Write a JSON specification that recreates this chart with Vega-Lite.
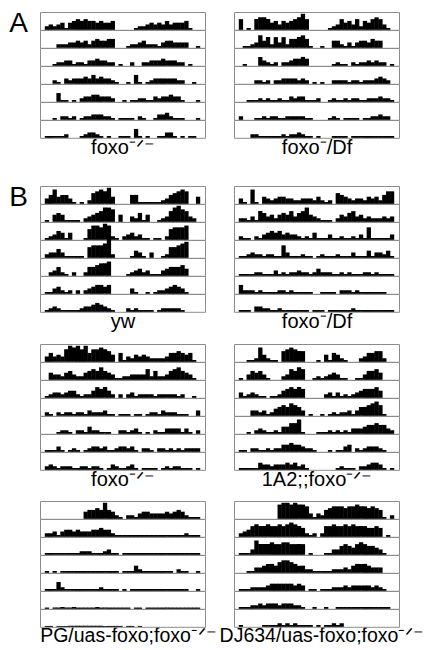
{
"$schema":"https://vega.github.io/schema/vega-lite/v6.json",
"background":"white",
"padding":{"left":9,"top":9,"right":0,"bottom":0},
"config":{"view":{"stroke":"#8c8c8c","strokeWidth":1},"font":"Liberation Sans","axis":{"titleFont":"Liberation Sans"},"title":{"font":"Liberation Sans","fontWeight":"normal","color":"black"}},
"datasets":{
"a1":[{"r":1,"x":0,"y":2},{"r":1,"x":1,"y":3},{"r":1,"x":2,"y":2},{"r":1,"x":3,"y":3},{"r":1,"x":4,"y":4},{"r":1,"x":5,"y":1},{"r":1,"x":6,"y":4},{"r":1,"x":7,"y":5},{"r":1,"x":8,"y":6},{"r":1,"x":9,"y":5},{"r":1,"x":10,"y":6},{"r":1,"x":11,"y":5},{"r":1,"x":12,"y":5},{"r":1,"x":13,"y":4},{"r":1,"x":14,"y":5},{"r":1,"x":15,"y":4},{"r":1,"x":16,"y":4},{"r":1,"x":17,"y":5},{"r":1,"x":23,"y":1},{"r":1,"x":24,"y":2},{"r":1,"x":25,"y":2},{"r":1,"x":26,"y":3},{"r":1,"x":27,"y":4},{"r":1,"x":28,"y":3},{"r":1,"x":29,"y":4},{"r":1,"x":30,"y":3},{"r":1,"x":31,"y":5},{"r":1,"x":32,"y":3},{"r":1,"x":33,"y":4},{"r":1,"x":34,"y":4},{"r":1,"x":35,"y":4},{"r":1,"x":36,"y":5},{"r":1,"x":37,"y":1},
{"r":2,"x":3,"y":2},{"r":2,"x":4,"y":2},{"r":2,"x":5,"y":2},{"r":2,"x":6,"y":3},{"r":2,"x":7,"y":3},{"r":2,"x":8,"y":4},{"r":2,"x":9,"y":3},{"r":2,"x":10,"y":4},{"r":2,"x":11,"y":2},{"r":2,"x":12,"y":4},{"r":2,"x":13,"y":5},{"r":2,"x":14,"y":4},{"r":2,"x":15,"y":4},{"r":2,"x":16,"y":5},{"r":2,"x":17,"y":5},{"r":2,"x":21,"y":1},{"r":2,"x":22,"y":2},{"r":2,"x":23,"y":2},{"r":2,"x":24,"y":3},{"r":2,"x":25,"y":4},{"r":2,"x":26,"y":2},{"r":2,"x":27,"y":2},{"r":2,"x":28,"y":2},{"r":2,"x":29,"y":1},{"r":2,"x":30,"y":3},{"r":2,"x":31,"y":4},{"r":2,"x":32,"y":4},{"r":2,"x":33,"y":3},{"r":2,"x":34,"y":3},{"r":2,"x":35,"y":3},{"r":2,"x":36,"y":3},{"r":2,"x":39,"y":1},
{"r":3,"x":2,"y":1},{"r":3,"x":3,"y":2},{"r":3,"x":4,"y":2},{"r":3,"x":5,"y":3},{"r":3,"x":6,"y":3},{"r":3,"x":7,"y":1},{"r":3,"x":8,"y":2},{"r":3,"x":9,"y":2},{"r":3,"x":10,"y":1},{"r":3,"x":11,"y":3},{"r":3,"x":12,"y":3},{"r":3,"x":13,"y":4},{"r":3,"x":14,"y":3},{"r":3,"x":15,"y":3},{"r":3,"x":16,"y":2},{"r":3,"x":17,"y":2},{"r":3,"x":19,"y":1},{"r":3,"x":22,"y":2},{"r":3,"x":25,"y":2},{"r":3,"x":26,"y":2},{"r":3,"x":27,"y":3},{"r":3,"x":28,"y":3},{"r":3,"x":29,"y":3},{"r":3,"x":30,"y":4},{"r":3,"x":31,"y":3},{"r":3,"x":32,"y":3},{"r":3,"x":33,"y":3},{"r":3,"x":34,"y":2},{"r":3,"x":35,"y":2},{"r":3,"x":37,"y":1},
{"r":4,"x":2,"y":2},{"r":4,"x":3,"y":1},{"r":4,"x":5,"y":3},{"r":4,"x":6,"y":2},{"r":4,"x":7,"y":3},{"r":4,"x":8,"y":3},{"r":4,"x":9,"y":3},{"r":4,"x":10,"y":4},{"r":4,"x":11,"y":3},{"r":4,"x":12,"y":5},{"r":4,"x":13,"y":3},{"r":4,"x":14,"y":4},{"r":4,"x":15,"y":3},{"r":4,"x":16,"y":3},{"r":4,"x":17,"y":2},{"r":4,"x":18,"y":1},{"r":4,"x":21,"y":1},{"r":4,"x":23,"y":5},{"r":4,"x":24,"y":1},{"r":4,"x":26,"y":1},{"r":4,"x":27,"y":2},{"r":4,"x":28,"y":3},{"r":4,"x":29,"y":3},{"r":4,"x":30,"y":3},{"r":4,"x":31,"y":3},{"r":4,"x":32,"y":3},{"r":4,"x":33,"y":3},{"r":4,"x":34,"y":2},{"r":4,"x":35,"y":2},{"r":4,"x":38,"y":1},
{"r":5,"x":3,"y":5},{"r":5,"x":4,"y":1},{"r":5,"x":5,"y":1},{"r":5,"x":7,"y":1},{"r":5,"x":9,"y":2},{"r":5,"x":10,"y":3},{"r":5,"x":11,"y":3},{"r":5,"x":12,"y":4},{"r":5,"x":13,"y":4},{"r":5,"x":14,"y":3},{"r":5,"x":15,"y":3},{"r":5,"x":16,"y":3},{"r":5,"x":17,"y":2},{"r":5,"x":20,"y":1},{"r":5,"x":22,"y":1},{"r":5,"x":23,"y":1},{"r":5,"x":24,"y":2},{"r":5,"x":25,"y":2},{"r":5,"x":26,"y":1},{"r":5,"x":27,"y":1},{"r":5,"x":28,"y":3},{"r":5,"x":29,"y":2},{"r":5,"x":30,"y":3},{"r":5,"x":31,"y":3},{"r":5,"x":32,"y":4},{"r":5,"x":33,"y":3},{"r":5,"x":34,"y":3},{"r":5,"x":35,"y":1},{"r":5,"x":39,"y":1},
{"r":6,"x":2,"y":1},{"r":6,"x":4,"y":2},{"r":6,"x":5,"y":2},{"r":6,"x":6,"y":1},{"r":6,"x":7,"y":2},{"r":6,"x":9,"y":1},{"r":6,"x":10,"y":2},{"r":6,"x":11,"y":2},{"r":6,"x":12,"y":3},{"r":6,"x":13,"y":3},{"r":6,"x":14,"y":3},{"r":6,"x":15,"y":2},{"r":6,"x":16,"y":2},{"r":6,"x":17,"y":1},{"r":6,"x":19,"y":1},{"r":6,"x":20,"y":1},{"r":6,"x":21,"y":1},{"r":6,"x":22,"y":1},{"r":6,"x":24,"y":2},{"r":6,"x":25,"y":1},{"r":6,"x":28,"y":1},{"r":6,"x":29,"y":3},{"r":6,"x":30,"y":3},{"r":6,"x":31,"y":4},{"r":6,"x":32,"y":2},{"r":6,"x":33,"y":1},{"r":6,"x":34,"y":1},{"r":6,"x":35,"y":1},{"r":6,"x":39,"y":1},
{"r":7,"x":0,"y":1},{"r":7,"x":1,"y":1},{"r":7,"x":2,"y":1},{"r":7,"x":3,"y":1},{"r":7,"x":4,"y":1},{"r":7,"x":5,"y":2},{"r":7,"x":9,"y":1},{"r":7,"x":10,"y":2},{"r":7,"x":11,"y":3},{"r":7,"x":12,"y":3},{"r":7,"x":13,"y":2},{"r":7,"x":14,"y":1},{"r":7,"x":16,"y":1},{"r":7,"x":19,"y":1},{"r":7,"x":20,"y":1},{"r":7,"x":21,"y":1},{"r":7,"x":23,"y":5},{"r":7,"x":24,"y":1},{"r":7,"x":26,"y":1},{"r":7,"x":29,"y":1},{"r":7,"x":30,"y":1},{"r":7,"x":31,"y":3},{"r":7,"x":32,"y":3},{"r":7,"x":33,"y":1},{"r":7,"x":35,"y":1},{"r":7,"x":37,"y":1},{"r":7,"x":38,"y":1}],
"a2":[{"r":1,"x":0,"y":6},{"r":1,"x":2,"y":1},{"r":1,"x":4,"y":6},{"r":1,"x":5,"y":7},{"r":1,"x":6,"y":7},{"r":1,"x":7,"y":6},{"r":1,"x":8,"y":4},{"r":1,"x":9,"y":5},{"r":1,"x":10,"y":3},{"r":1,"x":11,"y":5},{"r":1,"x":12,"y":4},{"r":1,"x":13,"y":5},{"r":1,"x":14,"y":6},{"r":1,"x":15,"y":7},{"r":1,"x":16,"y":9},{"r":1,"x":17,"y":6},{"r":1,"x":23,"y":1},{"r":1,"x":24,"y":2},{"r":1,"x":25,"y":3},{"r":1,"x":26,"y":6},{"r":1,"x":27,"y":4},{"r":1,"x":28,"y":5},{"r":1,"x":29,"y":3},{"r":1,"x":30,"y":6},{"r":1,"x":31,"y":2},{"r":1,"x":32,"y":5},{"r":1,"x":33,"y":4},{"r":1,"x":34,"y":6},{"r":1,"x":35,"y":7},{"r":1,"x":36,"y":6},{"r":1,"x":37,"y":3},{"r":1,"x":38,"y":1},
{"r":2,"x":1,"y":1},{"r":2,"x":2,"y":1},{"r":2,"x":3,"y":2},{"r":2,"x":4,"y":3},{"r":2,"x":5,"y":7},{"r":2,"x":6,"y":4},{"r":2,"x":7,"y":6},{"r":2,"x":8,"y":2},{"r":2,"x":9,"y":6},{"r":2,"x":10,"y":3},{"r":2,"x":11,"y":6},{"r":2,"x":12,"y":2},{"r":2,"x":13,"y":5},{"r":2,"x":14,"y":5},{"r":2,"x":15,"y":6},{"r":2,"x":16,"y":7},{"r":2,"x":17,"y":5},{"r":2,"x":18,"y":1},{"r":2,"x":21,"y":1},{"r":2,"x":24,"y":4},{"r":2,"x":25,"y":4},{"r":2,"x":26,"y":2},{"r":2,"x":27,"y":1},{"r":2,"x":28,"y":3},{"r":2,"x":29,"y":1},{"r":2,"x":30,"y":3},{"r":2,"x":31,"y":4},{"r":2,"x":32,"y":4},{"r":2,"x":33,"y":3},{"r":2,"x":34,"y":5},{"r":2,"x":35,"y":4},{"r":2,"x":36,"y":4},
{"r":3,"x":1,"y":1},{"r":3,"x":5,"y":5},{"r":3,"x":6,"y":3},{"r":3,"x":7,"y":2},{"r":3,"x":8,"y":1},{"r":3,"x":9,"y":2},{"r":3,"x":11,"y":2},{"r":3,"x":12,"y":2},{"r":3,"x":13,"y":3},{"r":3,"x":14,"y":4},{"r":3,"x":15,"y":4},{"r":3,"x":16,"y":5},{"r":3,"x":17,"y":4},{"r":3,"x":24,"y":1},{"r":3,"x":25,"y":2},{"r":3,"x":26,"y":1},{"r":3,"x":27,"y":1},{"r":3,"x":29,"y":2},{"r":3,"x":30,"y":1},{"r":3,"x":31,"y":2},{"r":3,"x":32,"y":2},{"r":3,"x":33,"y":3},{"r":3,"x":34,"y":2},{"r":3,"x":35,"y":3},{"r":3,"x":36,"y":2},{"r":3,"x":37,"y":2},{"r":3,"x":39,"y":1},
{"r":4,"x":4,"y":2},{"r":4,"x":5,"y":2},{"r":4,"x":6,"y":1},{"r":4,"x":7,"y":2},{"r":4,"x":9,"y":2},{"r":4,"x":10,"y":2},{"r":4,"x":11,"y":3},{"r":4,"x":12,"y":3},{"r":4,"x":13,"y":3},{"r":4,"x":14,"y":3},{"r":4,"x":15,"y":2},{"r":4,"x":16,"y":3},{"r":4,"x":17,"y":2},{"r":4,"x":19,"y":1},{"r":4,"x":21,"y":1},{"r":4,"x":24,"y":2},{"r":4,"x":25,"y":2},{"r":4,"x":26,"y":2},{"r":4,"x":27,"y":2},{"r":4,"x":28,"y":1},{"r":4,"x":29,"y":2},{"r":4,"x":30,"y":2},{"r":4,"x":31,"y":1},{"r":4,"x":32,"y":2},{"r":4,"x":33,"y":2},{"r":4,"x":34,"y":2},{"r":4,"x":35,"y":3},{"r":4,"x":36,"y":4},{"r":4,"x":37,"y":3},{"r":4,"x":38,"y":2},
{"r":5,"x":2,"y":1},{"r":5,"x":3,"y":1},{"r":5,"x":4,"y":1},{"r":5,"x":5,"y":2},{"r":5,"x":6,"y":1},{"r":5,"x":7,"y":2},{"r":5,"x":8,"y":1},{"r":5,"x":9,"y":1},{"r":5,"x":10,"y":2},{"r":5,"x":11,"y":1},{"r":5,"x":12,"y":1},{"r":5,"x":13,"y":3},{"r":5,"x":14,"y":2},{"r":5,"x":15,"y":3},{"r":5,"x":16,"y":3},{"r":5,"x":17,"y":1},{"r":5,"x":18,"y":1},{"r":5,"x":19,"y":1},{"r":5,"x":20,"y":2},{"r":5,"x":23,"y":1},{"r":5,"x":24,"y":2},{"r":5,"x":25,"y":1},{"r":5,"x":26,"y":1},{"r":5,"x":27,"y":2},{"r":5,"x":28,"y":1},{"r":5,"x":29,"y":2},{"r":5,"x":30,"y":2},{"r":5,"x":31,"y":1},{"r":5,"x":32,"y":1},{"r":5,"x":33,"y":2},{"r":5,"x":34,"y":2},{"r":5,"x":35,"y":2},{"r":5,"x":36,"y":3},{"r":5,"x":37,"y":2},{"r":5,"x":38,"y":2},{"r":5,"x":39,"y":1},
{"r":6,"x":0,"y":2},{"r":6,"x":4,"y":1},{"r":6,"x":5,"y":1},{"r":6,"x":6,"y":2},{"r":6,"x":7,"y":1},{"r":6,"x":8,"y":2},{"r":6,"x":9,"y":2},{"r":6,"x":10,"y":1},{"r":6,"x":11,"y":1},{"r":6,"x":12,"y":2},{"r":6,"x":13,"y":2},{"r":6,"x":14,"y":2},{"r":6,"x":15,"y":2},{"r":6,"x":16,"y":2},{"r":6,"x":17,"y":1},{"r":6,"x":18,"y":1},{"r":6,"x":23,"y":1},{"r":6,"x":24,"y":2},{"r":6,"x":25,"y":1},{"r":6,"x":27,"y":1},{"r":6,"x":28,"y":1},{"r":6,"x":29,"y":1},{"r":6,"x":30,"y":1},{"r":6,"x":32,"y":1},{"r":6,"x":33,"y":1},{"r":6,"x":34,"y":2},{"r":6,"x":35,"y":2},{"r":6,"x":36,"y":3},{"r":6,"x":37,"y":2},{"r":6,"x":38,"y":2},
{"r":7,"x":3,"y":2},{"r":7,"x":4,"y":2},{"r":7,"x":5,"y":1},{"r":7,"x":6,"y":1},{"r":7,"x":7,"y":1},{"r":7,"x":8,"y":1},{"r":7,"x":9,"y":1},{"r":7,"x":10,"y":1},{"r":7,"x":11,"y":2},{"r":7,"x":12,"y":1},{"r":7,"x":13,"y":2},{"r":7,"x":14,"y":2},{"r":7,"x":15,"y":3},{"r":7,"x":16,"y":2},{"r":7,"x":17,"y":1},{"r":7,"x":18,"y":1},{"r":7,"x":20,"y":1},{"r":7,"x":24,"y":1},{"r":7,"x":25,"y":1},{"r":7,"x":26,"y":1},{"r":7,"x":27,"y":1},{"r":7,"x":29,"y":1},{"r":7,"x":30,"y":1},{"r":7,"x":31,"y":1},{"r":7,"x":32,"y":1},{"r":7,"x":33,"y":1},{"r":7,"x":34,"y":1},{"r":7,"x":35,"y":1},{"r":7,"x":36,"y":1},{"r":7,"x":37,"y":1},{"r":7,"x":38,"y":1},{"r":7,"x":39,"y":1}],
"b1":[{"r":1,"x":0,"y":3},{"r":1,"x":1,"y":5},{"r":1,"x":2,"y":8},{"r":1,"x":3,"y":4},{"r":1,"x":4,"y":5},{"r":1,"x":5,"y":5},{"r":1,"x":6,"y":3},{"r":1,"x":7,"y":1},{"r":1,"x":9,"y":1},{"r":1,"x":11,"y":2},{"r":1,"x":12,"y":6},{"r":1,"x":13,"y":7},{"r":1,"x":14,"y":8},{"r":1,"x":15,"y":7},{"r":1,"x":16,"y":9},{"r":1,"x":17,"y":4},{"r":1,"x":22,"y":5},{"r":1,"x":23,"y":5},{"r":1,"x":24,"y":1},{"r":1,"x":25,"y":1},{"r":1,"x":26,"y":1},{"r":1,"x":27,"y":1},{"r":1,"x":28,"y":1},{"r":1,"x":29,"y":1},{"r":1,"x":30,"y":2},{"r":1,"x":31,"y":3},{"r":1,"x":32,"y":5},{"r":1,"x":33,"y":6},{"r":1,"x":34,"y":7},{"r":1,"x":35,"y":8},{"r":1,"x":36,"y":7},{"r":1,"x":39,"y":4},
{"r":2,"x":0,"y":1},{"r":2,"x":2,"y":4},{"r":2,"x":3,"y":5},{"r":2,"x":4,"y":4},{"r":2,"x":5,"y":1},{"r":2,"x":6,"y":1},{"r":2,"x":7,"y":1},{"r":2,"x":8,"y":1},{"r":2,"x":10,"y":2},{"r":2,"x":11,"y":3},{"r":2,"x":12,"y":4},{"r":2,"x":13,"y":5},{"r":2,"x":14,"y":6},{"r":2,"x":15,"y":8},{"r":2,"x":16,"y":8},{"r":2,"x":17,"y":7},{"r":2,"x":19,"y":4},{"r":2,"x":22,"y":3},{"r":2,"x":23,"y":2},{"r":2,"x":24,"y":5},{"r":2,"x":25,"y":1},{"r":2,"x":26,"y":4},{"r":2,"x":29,"y":1},{"r":2,"x":30,"y":2},{"r":2,"x":31,"y":3},{"r":2,"x":32,"y":6},{"r":2,"x":33,"y":8},{"r":2,"x":34,"y":9},{"r":2,"x":35,"y":7},{"r":2,"x":36,"y":6},{"r":2,"x":37,"y":3},{"r":2,"x":38,"y":2},
{"r":3,"x":0,"y":1},{"r":3,"x":1,"y":2},{"r":3,"x":2,"y":3},{"r":3,"x":3,"y":5},{"r":3,"x":4,"y":4},{"r":3,"x":5,"y":1},{"r":3,"x":6,"y":4},{"r":3,"x":10,"y":1},{"r":3,"x":11,"y":6},{"r":3,"x":12,"y":8},{"r":3,"x":13,"y":8},{"r":3,"x":14,"y":7},{"r":3,"x":15,"y":9},{"r":3,"x":16,"y":8},{"r":3,"x":17,"y":2},{"r":3,"x":18,"y":1},{"r":3,"x":20,"y":2},{"r":3,"x":21,"y":3},{"r":3,"x":22,"y":4},{"r":3,"x":23,"y":2},{"r":3,"x":24,"y":3},{"r":3,"x":25,"y":1},{"r":3,"x":26,"y":1},{"r":3,"x":28,"y":1},{"r":3,"x":29,"y":1},{"r":3,"x":31,"y":2},{"r":3,"x":32,"y":6},{"r":3,"x":33,"y":7},{"r":3,"x":34,"y":7},{"r":3,"x":35,"y":7},{"r":3,"x":36,"y":8},
{"r":4,"x":0,"y":2},{"r":4,"x":1,"y":3},{"r":4,"x":2,"y":3},{"r":4,"x":3,"y":5},{"r":4,"x":4,"y":3},{"r":4,"x":5,"y":1},{"r":4,"x":6,"y":1},{"r":4,"x":7,"y":1},{"r":4,"x":8,"y":1},{"r":4,"x":9,"y":1},{"r":4,"x":11,"y":6},{"r":4,"x":12,"y":7},{"r":4,"x":13,"y":7},{"r":4,"x":14,"y":7},{"r":4,"x":15,"y":8},{"r":4,"x":16,"y":11},{"r":4,"x":17,"y":2},{"r":4,"x":22,"y":1},{"r":4,"x":23,"y":4},{"r":4,"x":24,"y":3},{"r":4,"x":25,"y":1},{"r":4,"x":27,"y":3},{"r":4,"x":30,"y":1},{"r":4,"x":31,"y":2},{"r":4,"x":32,"y":6},{"r":4,"x":33,"y":6},{"r":4,"x":34,"y":7},{"r":4,"x":35,"y":8},{"r":4,"x":36,"y":9},
{"r":5,"x":1,"y":2},{"r":5,"x":2,"y":3},{"r":5,"x":3,"y":5},{"r":5,"x":4,"y":2},{"r":5,"x":5,"y":1},{"r":5,"x":7,"y":2},{"r":5,"x":10,"y":2},{"r":5,"x":11,"y":5},{"r":5,"x":12,"y":5},{"r":5,"x":13,"y":6},{"r":5,"x":14,"y":7},{"r":5,"x":15,"y":7},{"r":5,"x":16,"y":8},{"r":5,"x":21,"y":1},{"r":5,"x":22,"y":2},{"r":5,"x":23,"y":3},{"r":5,"x":24,"y":4},{"r":5,"x":25,"y":2},{"r":5,"x":26,"y":3},{"r":5,"x":27,"y":1},{"r":5,"x":28,"y":1},{"r":5,"x":29,"y":1},{"r":5,"x":30,"y":3},{"r":5,"x":31,"y":4},{"r":5,"x":32,"y":5},{"r":5,"x":33,"y":5},{"r":5,"x":34,"y":5},{"r":5,"x":35,"y":6},{"r":5,"x":36,"y":4},
{"r":6,"x":0,"y":1},{"r":6,"x":1,"y":1},{"r":6,"x":2,"y":3},{"r":6,"x":3,"y":4},{"r":6,"x":4,"y":2},{"r":6,"x":5,"y":1},{"r":6,"x":6,"y":2},{"r":6,"x":8,"y":2},{"r":6,"x":10,"y":2},{"r":6,"x":11,"y":3},{"r":6,"x":12,"y":4},{"r":6,"x":13,"y":5},{"r":6,"x":14,"y":5},{"r":6,"x":15,"y":4},{"r":6,"x":16,"y":5},{"r":6,"x":22,"y":3},{"r":6,"x":23,"y":1},{"r":6,"x":26,"y":1},{"r":6,"x":28,"y":1},{"r":6,"x":29,"y":2},{"r":6,"x":30,"y":2},{"r":6,"x":31,"y":3},{"r":6,"x":32,"y":4},{"r":6,"x":33,"y":5},{"r":6,"x":34,"y":4},{"r":6,"x":35,"y":3},{"r":6,"x":36,"y":1},
{"r":7,"x":0,"y":1},{"r":7,"x":1,"y":2},{"r":7,"x":2,"y":3},{"r":7,"x":3,"y":2},{"r":7,"x":4,"y":1},{"r":7,"x":5,"y":1},{"r":7,"x":6,"y":1},{"r":7,"x":7,"y":1},{"r":7,"x":8,"y":1},{"r":7,"x":9,"y":2},{"r":7,"x":10,"y":3},{"r":7,"x":11,"y":3},{"r":7,"x":12,"y":4},{"r":7,"x":13,"y":5},{"r":7,"x":14,"y":4},{"r":7,"x":15,"y":3},{"r":7,"x":16,"y":2},{"r":7,"x":17,"y":1},{"r":7,"x":21,"y":2},{"r":7,"x":22,"y":1},{"r":7,"x":23,"y":2},{"r":7,"x":24,"y":1},{"r":7,"x":25,"y":1},{"r":7,"x":26,"y":1},{"r":7,"x":27,"y":1},{"r":7,"x":29,"y":1},{"r":7,"x":30,"y":2},{"r":7,"x":31,"y":2},{"r":7,"x":32,"y":2},{"r":7,"x":33,"y":2},{"r":7,"x":34,"y":2},{"r":7,"x":35,"y":1}],
"b2":[{"r":1,"x":0,"y":3},{"r":1,"x":1,"y":1},{"r":1,"x":3,"y":8},{"r":1,"x":4,"y":1},{"r":1,"x":6,"y":4},{"r":1,"x":7,"y":3},{"r":1,"x":8,"y":2},{"r":1,"x":9,"y":3},{"r":1,"x":10,"y":4},{"r":1,"x":11,"y":4},{"r":1,"x":12,"y":3},{"r":1,"x":13,"y":3},{"r":1,"x":14,"y":2},{"r":1,"x":15,"y":2},{"r":1,"x":16,"y":3},{"r":1,"x":17,"y":3},{"r":1,"x":18,"y":3},{"r":1,"x":19,"y":2},{"r":1,"x":20,"y":4},{"r":1,"x":21,"y":2},{"r":1,"x":22,"y":1},{"r":1,"x":23,"y":2},{"r":1,"x":25,"y":6},{"r":1,"x":26,"y":5},{"r":1,"x":27,"y":4},{"r":1,"x":28,"y":3},{"r":1,"x":29,"y":2},{"r":1,"x":30,"y":3},{"r":1,"x":31,"y":3},{"r":1,"x":32,"y":2},{"r":1,"x":33,"y":4},{"r":1,"x":34,"y":3},{"r":1,"x":35,"y":4},{"r":1,"x":36,"y":2},{"r":1,"x":37,"y":5},{"r":1,"x":38,"y":7},{"r":1,"x":39,"y":7},
{"r":2,"x":0,"y":2},{"r":2,"x":1,"y":2},{"r":2,"x":2,"y":1},{"r":2,"x":3,"y":3},{"r":2,"x":4,"y":1},{"r":2,"x":5,"y":6},{"r":2,"x":6,"y":5},{"r":2,"x":7,"y":3},{"r":2,"x":8,"y":4},{"r":2,"x":9,"y":2},{"r":2,"x":10,"y":4},{"r":2,"x":11,"y":5},{"r":2,"x":12,"y":4},{"r":2,"x":13,"y":6},{"r":2,"x":14,"y":3},{"r":2,"x":15,"y":5},{"r":2,"x":16,"y":6},{"r":2,"x":17,"y":8},{"r":2,"x":18,"y":4},{"r":2,"x":19,"y":3},{"r":2,"x":20,"y":2},{"r":2,"x":21,"y":1},{"r":2,"x":22,"y":1},{"r":2,"x":23,"y":1},{"r":2,"x":25,"y":2},{"r":2,"x":26,"y":4},{"r":2,"x":27,"y":3},{"r":2,"x":28,"y":5},{"r":2,"x":29,"y":6},{"r":2,"x":30,"y":3},{"r":2,"x":31,"y":4},{"r":2,"x":32,"y":2},{"r":2,"x":33,"y":3},{"r":2,"x":34,"y":2},{"r":2,"x":35,"y":2},{"r":2,"x":36,"y":2},{"r":2,"x":37,"y":3},{"r":2,"x":38,"y":2},{"r":2,"x":39,"y":3},
{"r":3,"x":0,"y":2},{"r":3,"x":1,"y":1},{"r":3,"x":2,"y":1},{"r":3,"x":4,"y":2},{"r":3,"x":5,"y":1},{"r":3,"x":6,"y":3},{"r":3,"x":7,"y":4},{"r":3,"x":8,"y":5},{"r":3,"x":9,"y":4},{"r":3,"x":10,"y":5},{"r":3,"x":11,"y":3},{"r":3,"x":12,"y":4},{"r":3,"x":13,"y":3},{"r":3,"x":14,"y":3},{"r":3,"x":15,"y":2},{"r":3,"x":16,"y":1},{"r":3,"x":17,"y":2},{"r":3,"x":18,"y":1},{"r":3,"x":19,"y":4},{"r":3,"x":20,"y":1},{"r":3,"x":21,"y":1},{"r":3,"x":22,"y":1},{"r":3,"x":23,"y":3},{"r":3,"x":24,"y":1},{"r":3,"x":25,"y":1},{"r":3,"x":26,"y":2},{"r":3,"x":27,"y":1},{"r":3,"x":28,"y":1},{"r":3,"x":29,"y":2},{"r":3,"x":30,"y":1},{"r":3,"x":31,"y":3},{"r":3,"x":32,"y":1},{"r":3,"x":33,"y":7},{"r":3,"x":34,"y":1},{"r":3,"x":35,"y":1},{"r":3,"x":36,"y":1},{"r":3,"x":37,"y":1},{"r":3,"x":38,"y":1},{"r":3,"x":39,"y":3},
{"r":4,"x":0,"y":1},{"r":4,"x":1,"y":1},{"r":4,"x":2,"y":2},{"r":4,"x":3,"y":3},{"r":4,"x":4,"y":2},{"r":4,"x":5,"y":2},{"r":4,"x":6,"y":1},{"r":4,"x":7,"y":2},{"r":4,"x":8,"y":2},{"r":4,"x":9,"y":1},{"r":4,"x":10,"y":1},{"r":4,"x":11,"y":7},{"r":4,"x":12,"y":3},{"r":4,"x":13,"y":1},{"r":4,"x":14,"y":1},{"r":4,"x":15,"y":1},{"r":4,"x":16,"y":2},{"r":4,"x":17,"y":1},{"r":4,"x":18,"y":1},{"r":4,"x":20,"y":1},{"r":4,"x":21,"y":2},{"r":4,"x":22,"y":1},{"r":4,"x":23,"y":1},{"r":4,"x":24,"y":1},{"r":4,"x":25,"y":2},{"r":4,"x":26,"y":1},{"r":4,"x":27,"y":1},{"r":4,"x":28,"y":1},{"r":4,"x":29,"y":3},{"r":4,"x":30,"y":1},{"r":4,"x":31,"y":1},{"r":4,"x":32,"y":1},{"r":4,"x":33,"y":4},{"r":4,"x":34,"y":1},{"r":4,"x":35,"y":3},{"r":4,"x":36,"y":3},{"r":4,"x":37,"y":2},{"r":4,"x":38,"y":4},{"r":4,"x":39,"y":1},
{"r":5,"x":0,"y":1},{"r":5,"x":1,"y":1},{"r":5,"x":2,"y":1},{"r":5,"x":3,"y":1},{"r":5,"x":4,"y":2},{"r":5,"x":5,"y":2},{"r":5,"x":6,"y":1},{"r":5,"x":7,"y":1},{"r":5,"x":8,"y":1},{"r":5,"x":9,"y":3},{"r":5,"x":10,"y":1},{"r":5,"x":11,"y":2},{"r":5,"x":12,"y":1},{"r":5,"x":13,"y":2},{"r":5,"x":14,"y":2},{"r":5,"x":15,"y":3},{"r":5,"x":16,"y":2},{"r":5,"x":17,"y":2},{"r":5,"x":18,"y":1},{"r":5,"x":19,"y":2},{"r":5,"x":20,"y":4},{"r":5,"x":21,"y":2},{"r":5,"x":22,"y":2},{"r":5,"x":23,"y":2},{"r":5,"x":24,"y":1},{"r":5,"x":25,"y":1},{"r":5,"x":26,"y":2},{"r":5,"x":27,"y":1},{"r":5,"x":28,"y":2},{"r":5,"x":29,"y":1},{"r":5,"x":30,"y":1},{"r":5,"x":31,"y":1},{"r":5,"x":32,"y":2},{"r":5,"x":33,"y":2},{"r":5,"x":34,"y":1},{"r":5,"x":35,"y":2},{"r":5,"x":36,"y":1},{"r":5,"x":37,"y":1},{"r":5,"x":38,"y":1},{"r":5,"x":39,"y":1},
{"r":6,"x":0,"y":5},{"r":6,"x":1,"y":2},{"r":6,"x":2,"y":2},{"r":6,"x":3,"y":2},{"r":6,"x":4,"y":1},{"r":6,"x":5,"y":2},{"r":6,"x":6,"y":1},{"r":6,"x":7,"y":1},{"r":6,"x":8,"y":1},{"r":6,"x":9,"y":1},{"r":6,"x":10,"y":2},{"r":6,"x":11,"y":2},{"r":6,"x":12,"y":1},{"r":6,"x":13,"y":2},{"r":6,"x":14,"y":1},{"r":6,"x":15,"y":1},{"r":6,"x":16,"y":1},{"r":6,"x":17,"y":1},{"r":6,"x":18,"y":1},{"r":6,"x":21,"y":1},{"r":6,"x":22,"y":1},{"r":6,"x":23,"y":1},{"r":6,"x":24,"y":1},{"r":6,"x":26,"y":2},{"r":6,"x":27,"y":2},{"r":6,"x":28,"y":2},{"r":6,"x":29,"y":1},{"r":6,"x":30,"y":2},{"r":6,"x":31,"y":1},{"r":6,"x":32,"y":1},{"r":6,"x":33,"y":1},{"r":6,"x":34,"y":1},{"r":6,"x":35,"y":1},{"r":6,"x":36,"y":1},{"r":6,"x":37,"y":1},
{"r":7,"x":0,"y":1},{"r":7,"x":1,"y":1},{"r":7,"x":2,"y":1},{"r":7,"x":4,"y":3},{"r":7,"x":5,"y":3},{"r":7,"x":6,"y":2},{"r":7,"x":7,"y":2},{"r":7,"x":8,"y":1},{"r":7,"x":9,"y":1},{"r":7,"x":10,"y":2},{"r":7,"x":11,"y":1},{"r":7,"x":12,"y":1},{"r":7,"x":13,"y":1},{"r":7,"x":14,"y":1},{"r":7,"x":15,"y":1},{"r":7,"x":16,"y":1},{"r":7,"x":17,"y":1},{"r":7,"x":19,"y":1},{"r":7,"x":20,"y":1},{"r":7,"x":21,"y":1},{"r":7,"x":23,"y":1},{"r":7,"x":24,"y":1},{"r":7,"x":25,"y":1},{"r":7,"x":26,"y":1},{"r":7,"x":27,"y":1},{"r":7,"x":28,"y":1},{"r":7,"x":29,"y":2},{"r":7,"x":30,"y":1},{"r":7,"x":31,"y":1},{"r":7,"x":32,"y":1},{"r":7,"x":33,"y":1},{"r":7,"x":34,"y":1},{"r":7,"x":35,"y":1},{"r":7,"x":36,"y":1},{"r":7,"x":37,"y":1},{"r":7,"x":38,"y":1},{"r":7,"x":39,"y":1}],
"b3":[{"r":1,"x":0,"y":3},{"r":1,"x":1,"y":5},{"r":1,"x":2,"y":3},{"r":1,"x":3,"y":4},{"r":1,"x":4,"y":3},{"r":1,"x":5,"y":7},{"r":1,"x":6,"y":9},{"r":1,"x":7,"y":8},{"r":1,"x":8,"y":9},{"r":1,"x":9,"y":7},{"r":1,"x":10,"y":9},{"r":1,"x":11,"y":5},{"r":1,"x":12,"y":7},{"r":1,"x":13,"y":7},{"r":1,"x":14,"y":8},{"r":1,"x":15,"y":7},{"r":1,"x":16,"y":6},{"r":1,"x":17,"y":4},{"r":1,"x":19,"y":5},{"r":1,"x":20,"y":1},{"r":1,"x":21,"y":3},{"r":1,"x":22,"y":2},{"r":1,"x":23,"y":4},{"r":1,"x":24,"y":3},{"r":1,"x":25,"y":4},{"r":1,"x":26,"y":3},{"r":1,"x":27,"y":2},{"r":1,"x":28,"y":2},{"r":1,"x":29,"y":2},{"r":1,"x":30,"y":2},{"r":1,"x":31,"y":3},{"r":1,"x":32,"y":5},{"r":1,"x":33,"y":5},{"r":1,"x":34,"y":6},{"r":1,"x":35,"y":5},{"r":1,"x":36,"y":4},{"r":1,"x":37,"y":5},{"r":1,"x":38,"y":1},
{"r":2,"x":1,"y":4},{"r":2,"x":2,"y":3},{"r":2,"x":3,"y":3},{"r":2,"x":4,"y":2},{"r":2,"x":5,"y":4},{"r":2,"x":6,"y":5},{"r":2,"x":7,"y":3},{"r":2,"x":8,"y":2},{"r":2,"x":9,"y":2},{"r":2,"x":10,"y":4},{"r":2,"x":11,"y":5},{"r":2,"x":12,"y":6},{"r":2,"x":13,"y":5},{"r":2,"x":14,"y":7},{"r":2,"x":15,"y":5},{"r":2,"x":16,"y":4},{"r":2,"x":17,"y":3},{"r":2,"x":18,"y":1},{"r":2,"x":19,"y":1},{"r":2,"x":20,"y":2},{"r":2,"x":21,"y":2},{"r":2,"x":22,"y":3},{"r":2,"x":23,"y":3},{"r":2,"x":24,"y":3},{"r":2,"x":25,"y":3},{"r":2,"x":26,"y":6},{"r":2,"x":27,"y":2},{"r":2,"x":28,"y":5},{"r":2,"x":29,"y":2},{"r":2,"x":30,"y":2},{"r":2,"x":31,"y":3},{"r":2,"x":32,"y":5},{"r":2,"x":33,"y":6},{"r":2,"x":34,"y":7},{"r":2,"x":35,"y":5},{"r":2,"x":36,"y":4},{"r":2,"x":37,"y":3},{"r":2,"x":38,"y":1},
{"r":3,"x":0,"y":1},{"r":3,"x":1,"y":2},{"r":3,"x":2,"y":3},{"r":3,"x":3,"y":3},{"r":3,"x":4,"y":2},{"r":3,"x":5,"y":3},{"r":3,"x":6,"y":4},{"r":3,"x":7,"y":4},{"r":3,"x":8,"y":2},{"r":3,"x":9,"y":1},{"r":3,"x":10,"y":2},{"r":3,"x":11,"y":2},{"r":3,"x":12,"y":4},{"r":3,"x":13,"y":6},{"r":3,"x":14,"y":5},{"r":3,"x":15,"y":6},{"r":3,"x":16,"y":4},{"r":3,"x":17,"y":2},{"r":3,"x":19,"y":2},{"r":3,"x":21,"y":2},{"r":3,"x":22,"y":3},{"r":3,"x":23,"y":1},{"r":3,"x":24,"y":2},{"r":3,"x":25,"y":2},{"r":3,"x":26,"y":2},{"r":3,"x":27,"y":2},{"r":3,"x":28,"y":1},{"r":3,"x":29,"y":2},{"r":3,"x":30,"y":2},{"r":3,"x":31,"y":2},{"r":3,"x":32,"y":2},{"r":3,"x":33,"y":2},{"r":3,"x":34,"y":1},{"r":3,"x":35,"y":2},{"r":3,"x":38,"y":1},
{"r":4,"x":0,"y":2},{"r":4,"x":1,"y":1},{"r":4,"x":3,"y":2},{"r":4,"x":4,"y":1},{"r":4,"x":5,"y":2},{"r":4,"x":6,"y":2},{"r":4,"x":7,"y":1},{"r":4,"x":8,"y":2},{"r":4,"x":9,"y":2},{"r":4,"x":10,"y":1},{"r":4,"x":11,"y":3},{"r":4,"x":12,"y":2},{"r":4,"x":13,"y":2},{"r":4,"x":14,"y":2},{"r":4,"x":15,"y":3},{"r":4,"x":16,"y":1},{"r":4,"x":17,"y":1},{"r":4,"x":19,"y":1},{"r":4,"x":20,"y":1},{"r":4,"x":21,"y":1},{"r":4,"x":23,"y":1},{"r":4,"x":24,"y":1},{"r":4,"x":26,"y":1},{"r":4,"x":27,"y":2},{"r":4,"x":28,"y":2},{"r":4,"x":29,"y":1},{"r":4,"x":30,"y":3},{"r":4,"x":31,"y":2},{"r":4,"x":32,"y":2},{"r":4,"x":33,"y":2},{"r":4,"x":34,"y":1},{"r":4,"x":35,"y":1},{"r":4,"x":36,"y":1},{"r":4,"x":39,"y":3},
{"r":5,"x":3,"y":1},{"r":5,"x":4,"y":2},{"r":5,"x":5,"y":2},{"r":5,"x":6,"y":1},{"r":5,"x":8,"y":2},{"r":5,"x":9,"y":2},{"r":5,"x":10,"y":1},{"r":5,"x":11,"y":4},{"r":5,"x":12,"y":2},{"r":5,"x":13,"y":2},{"r":5,"x":14,"y":1},{"r":5,"x":15,"y":1},{"r":5,"x":16,"y":1},{"r":5,"x":19,"y":2},{"r":5,"x":20,"y":2},{"r":5,"x":21,"y":1},{"r":5,"x":22,"y":2},{"r":5,"x":23,"y":3},{"r":5,"x":24,"y":1},{"r":5,"x":26,"y":1},{"r":5,"x":28,"y":2},{"r":5,"x":29,"y":1},{"r":5,"x":30,"y":1},{"r":5,"x":31,"y":3},{"r":5,"x":32,"y":3},{"r":5,"x":33,"y":3},{"r":5,"x":34,"y":3},{"r":5,"x":35,"y":1},{"r":5,"x":36,"y":3},{"r":5,"x":37,"y":1},{"r":5,"x":39,"y":2},
{"r":6,"x":0,"y":1},{"r":6,"x":1,"y":1},{"r":6,"x":2,"y":1},{"r":6,"x":3,"y":3},{"r":6,"x":4,"y":1},{"r":6,"x":6,"y":1},{"r":6,"x":7,"y":2},{"r":6,"x":8,"y":1},{"r":6,"x":10,"y":1},{"r":6,"x":11,"y":2},{"r":6,"x":12,"y":3},{"r":6,"x":13,"y":3},{"r":6,"x":14,"y":2},{"r":6,"x":15,"y":3},{"r":6,"x":16,"y":1},{"r":6,"x":17,"y":1},{"r":6,"x":18,"y":2},{"r":6,"x":19,"y":3},{"r":6,"x":20,"y":3},{"r":6,"x":21,"y":2},{"r":6,"x":22,"y":3},{"r":6,"x":23,"y":1},{"r":6,"x":25,"y":2},{"r":6,"x":26,"y":2},{"r":6,"x":27,"y":1},{"r":6,"x":29,"y":2},{"r":6,"x":30,"y":2},{"r":6,"x":31,"y":1},{"r":6,"x":32,"y":2},{"r":6,"x":33,"y":1},{"r":6,"x":34,"y":2},{"r":6,"x":35,"y":1},{"r":6,"x":36,"y":2},{"r":6,"x":37,"y":2},{"r":6,"x":38,"y":2},{"r":6,"x":39,"y":2},
{"r":7,"x":0,"y":2},{"r":7,"x":1,"y":3},{"r":7,"x":2,"y":2},{"r":7,"x":3,"y":1},{"r":7,"x":4,"y":2},{"r":7,"x":5,"y":2},{"r":7,"x":6,"y":2},{"r":7,"x":7,"y":1},{"r":7,"x":8,"y":1},{"r":7,"x":9,"y":2},{"r":7,"x":10,"y":2},{"r":7,"x":11,"y":1},{"r":7,"x":12,"y":2},{"r":7,"x":13,"y":2},{"r":7,"x":14,"y":1},{"r":7,"x":16,"y":1},{"r":7,"x":17,"y":3},{"r":7,"x":18,"y":2},{"r":7,"x":19,"y":1},{"r":7,"x":20,"y":1},{"r":7,"x":21,"y":2},{"r":7,"x":22,"y":3},{"r":7,"x":23,"y":1},{"r":7,"x":25,"y":1},{"r":7,"x":26,"y":1},{"r":7,"x":27,"y":1},{"r":7,"x":28,"y":1},{"r":7,"x":30,"y":1},{"r":7,"x":31,"y":2},{"r":7,"x":32,"y":1},{"r":7,"x":33,"y":2},{"r":7,"x":34,"y":2},{"r":7,"x":35,"y":1},{"r":7,"x":36,"y":1},{"r":7,"x":37,"y":1},{"r":7,"x":39,"y":1}],
"b4":[{"r":1,"x":2,"y":1},{"r":1,"x":3,"y":1},{"r":1,"x":4,"y":2},{"r":1,"x":5,"y":8},{"r":1,"x":6,"y":4},{"r":1,"x":7,"y":2},{"r":1,"x":8,"y":1},{"r":1,"x":9,"y":1},{"r":1,"x":11,"y":6},{"r":1,"x":12,"y":7},{"r":1,"x":13,"y":8},{"r":1,"x":14,"y":7},{"r":1,"x":15,"y":6},{"r":1,"x":16,"y":6},{"r":1,"x":20,"y":1},{"r":1,"x":22,"y":4},{"r":1,"x":23,"y":1},{"r":1,"x":24,"y":5},{"r":1,"x":25,"y":4},{"r":1,"x":26,"y":2},{"r":1,"x":27,"y":1},{"r":1,"x":31,"y":2},{"r":1,"x":32,"y":3},{"r":1,"x":33,"y":5},{"r":1,"x":34,"y":5},{"r":1,"x":35,"y":6},{"r":1,"x":36,"y":6},{"r":1,"x":37,"y":2},
{"r":2,"x":0,"y":1},{"r":2,"x":2,"y":3},{"r":2,"x":3,"y":5},{"r":2,"x":4,"y":4},{"r":2,"x":5,"y":5},{"r":2,"x":6,"y":3},{"r":2,"x":7,"y":1},{"r":2,"x":11,"y":2},{"r":2,"x":12,"y":3},{"r":2,"x":13,"y":6},{"r":2,"x":14,"y":5},{"r":2,"x":15,"y":7},{"r":2,"x":16,"y":6},{"r":2,"x":19,"y":1},{"r":2,"x":20,"y":2},{"r":2,"x":21,"y":1},{"r":2,"x":22,"y":2},{"r":2,"x":23,"y":3},{"r":2,"x":24,"y":4},{"r":2,"x":25,"y":3},{"r":2,"x":26,"y":1},{"r":2,"x":27,"y":1},{"r":2,"x":30,"y":1},{"r":2,"x":31,"y":1},{"r":2,"x":32,"y":3},{"r":2,"x":33,"y":5},{"r":2,"x":34,"y":5},{"r":2,"x":35,"y":6},{"r":2,"x":36,"y":4},
{"r":3,"x":0,"y":3},{"r":3,"x":1,"y":1},{"r":3,"x":2,"y":2},{"r":3,"x":3,"y":3},{"r":3,"x":4,"y":2},{"r":3,"x":5,"y":1},{"r":3,"x":6,"y":1},{"r":3,"x":8,"y":1},{"r":3,"x":9,"y":1},{"r":3,"x":10,"y":2},{"r":3,"x":11,"y":4},{"r":3,"x":12,"y":5},{"r":3,"x":13,"y":6},{"r":3,"x":14,"y":5},{"r":3,"x":15,"y":6},{"r":3,"x":16,"y":5},{"r":3,"x":22,"y":2},{"r":3,"x":23,"y":3},{"r":3,"x":24,"y":1},{"r":3,"x":25,"y":3},{"r":3,"x":26,"y":1},{"r":3,"x":27,"y":2},{"r":3,"x":28,"y":1},{"r":3,"x":29,"y":2},{"r":3,"x":30,"y":3},{"r":3,"x":31,"y":4},{"r":3,"x":32,"y":5},{"r":3,"x":33,"y":5},{"r":3,"x":34,"y":5},{"r":3,"x":35,"y":6},{"r":3,"x":36,"y":4},
{"r":4,"x":3,"y":3},{"r":4,"x":4,"y":3},{"r":4,"x":5,"y":2},{"r":4,"x":6,"y":3},{"r":4,"x":7,"y":1},{"r":4,"x":8,"y":2},{"r":4,"x":9,"y":4},{"r":4,"x":10,"y":5},{"r":4,"x":11,"y":6},{"r":4,"x":12,"y":5},{"r":4,"x":13,"y":7},{"r":4,"x":14,"y":6},{"r":4,"x":15,"y":5},{"r":4,"x":16,"y":3},{"r":4,"x":18,"y":1},{"r":4,"x":21,"y":1},{"r":4,"x":23,"y":1},{"r":4,"x":24,"y":2},{"r":4,"x":25,"y":1},{"r":4,"x":26,"y":2},{"r":4,"x":27,"y":2},{"r":4,"x":28,"y":3},{"r":4,"x":29,"y":1},{"r":4,"x":30,"y":3},{"r":4,"x":31,"y":5},{"r":4,"x":32,"y":5},{"r":4,"x":33,"y":6},{"r":4,"x":34,"y":7},{"r":4,"x":35,"y":8},{"r":4,"x":36,"y":6},{"r":4,"x":37,"y":1},
{"r":5,"x":2,"y":1},{"r":5,"x":4,"y":2},{"r":5,"x":5,"y":3},{"r":5,"x":6,"y":2},{"r":5,"x":7,"y":1},{"r":5,"x":8,"y":1},{"r":5,"x":9,"y":2},{"r":5,"x":10,"y":1},{"r":5,"x":11,"y":4},{"r":5,"x":12,"y":4},{"r":5,"x":13,"y":6},{"r":5,"x":14,"y":6},{"r":5,"x":15,"y":8},{"r":5,"x":16,"y":1},{"r":5,"x":20,"y":1},{"r":5,"x":21,"y":1},{"r":5,"x":22,"y":1},{"r":5,"x":23,"y":2},{"r":5,"x":24,"y":1},{"r":5,"x":25,"y":2},{"r":5,"x":26,"y":1},{"r":5,"x":27,"y":2},{"r":5,"x":28,"y":1},{"r":5,"x":29,"y":3},{"r":5,"x":30,"y":3},{"r":5,"x":31,"y":3},{"r":5,"x":32,"y":4},{"r":5,"x":33,"y":5},{"r":5,"x":34,"y":5},{"r":5,"x":35,"y":6},{"r":5,"x":36,"y":5},{"r":5,"x":37,"y":5},{"r":5,"x":38,"y":3},{"r":5,"x":39,"y":2},
{"r":6,"x":0,"y":1},{"r":6,"x":1,"y":1},{"r":6,"x":3,"y":2},{"r":6,"x":4,"y":2},{"r":6,"x":5,"y":1},{"r":6,"x":6,"y":1},{"r":6,"x":7,"y":2},{"r":6,"x":8,"y":1},{"r":6,"x":9,"y":2},{"r":6,"x":10,"y":2},{"r":6,"x":11,"y":4},{"r":6,"x":12,"y":4},{"r":6,"x":13,"y":5},{"r":6,"x":14,"y":4},{"r":6,"x":15,"y":4},{"r":6,"x":16,"y":3},{"r":6,"x":17,"y":2},{"r":6,"x":18,"y":2},{"r":6,"x":19,"y":1},{"r":6,"x":23,"y":1},{"r":6,"x":25,"y":1},{"r":6,"x":26,"y":1},{"r":6,"x":27,"y":3},{"r":6,"x":28,"y":4},{"r":6,"x":30,"y":2},{"r":6,"x":31,"y":1},{"r":6,"x":32,"y":2},{"r":6,"x":33,"y":3},{"r":6,"x":34,"y":3},{"r":6,"x":35,"y":3},{"r":6,"x":36,"y":2},{"r":6,"x":37,"y":1},
{"r":7,"x":0,"y":1},{"r":7,"x":1,"y":1},{"r":7,"x":2,"y":1},{"r":7,"x":3,"y":1},{"r":7,"x":4,"y":1},{"r":7,"x":5,"y":4},{"r":7,"x":6,"y":3},{"r":7,"x":7,"y":3},{"r":7,"x":8,"y":2},{"r":7,"x":9,"y":3},{"r":7,"x":10,"y":3},{"r":7,"x":11,"y":3},{"r":7,"x":12,"y":4},{"r":7,"x":13,"y":3},{"r":7,"x":14,"y":4},{"r":7,"x":15,"y":2},{"r":7,"x":16,"y":3},{"r":7,"x":17,"y":1},{"r":7,"x":25,"y":1},{"r":7,"x":26,"y":2},{"r":7,"x":27,"y":1},{"r":7,"x":28,"y":1},{"r":7,"x":29,"y":1},{"r":7,"x":31,"y":2},{"r":7,"x":32,"y":2},{"r":7,"x":33,"y":3},{"r":7,"x":34,"y":4},{"r":7,"x":35,"y":4},{"r":7,"x":36,"y":3},{"r":7,"x":37,"y":1},{"r":7,"x":39,"y":1}],
"b5":[{"r":1,"x":10,"y":4},{"r":1,"x":11,"y":5},{"r":1,"x":12,"y":5},{"r":1,"x":13,"y":6},{"r":1,"x":14,"y":5},{"r":1,"x":15,"y":9},{"r":1,"x":16,"y":5},{"r":1,"x":17,"y":4},{"r":1,"x":18,"y":2},{"r":1,"x":19,"y":1},{"r":1,"x":21,"y":2},{"r":1,"x":22,"y":2},{"r":1,"x":23,"y":1},{"r":1,"x":24,"y":3},{"r":1,"x":25,"y":4},{"r":1,"x":26,"y":4},{"r":1,"x":27,"y":3},{"r":1,"x":28,"y":3},{"r":1,"x":29,"y":3},{"r":1,"x":30,"y":3},{"r":1,"x":31,"y":4},{"r":1,"x":32,"y":3},{"r":1,"x":33,"y":4},{"r":1,"x":34,"y":5},{"r":1,"x":35,"y":4},{"r":1,"x":36,"y":2},{"r":1,"x":37,"y":1},{"r":1,"x":38,"y":1},{"r":1,"x":39,"y":1},
{"r":2,"x":0,"y":2},{"r":2,"x":1,"y":2},{"r":2,"x":2,"y":3},{"r":2,"x":3,"y":1},{"r":2,"x":4,"y":3},{"r":2,"x":5,"y":4},{"r":2,"x":6,"y":4},{"r":2,"x":7,"y":3},{"r":2,"x":8,"y":4},{"r":2,"x":9,"y":3},{"r":2,"x":10,"y":3},{"r":2,"x":11,"y":3},{"r":2,"x":12,"y":4},{"r":2,"x":13,"y":4},{"r":2,"x":14,"y":5},{"r":2,"x":15,"y":4},{"r":2,"x":16,"y":4},{"r":2,"x":17,"y":2},{"r":2,"x":18,"y":1},{"r":2,"x":19,"y":1},{"r":2,"x":20,"y":1},{"r":2,"x":21,"y":1},{"r":2,"x":22,"y":1},{"r":2,"x":23,"y":1},{"r":2,"x":24,"y":1},{"r":2,"x":25,"y":1},{"r":2,"x":26,"y":1},{"r":2,"x":27,"y":1},{"r":2,"x":28,"y":1},{"r":2,"x":29,"y":1},{"r":2,"x":30,"y":1},{"r":2,"x":31,"y":1},{"r":2,"x":32,"y":1},{"r":2,"x":33,"y":1},{"r":2,"x":34,"y":1},{"r":2,"x":35,"y":1},{"r":2,"x":36,"y":2},{"r":2,"x":37,"y":1},{"r":2,"x":38,"y":1},{"r":2,"x":39,"y":1},
{"r":3,"x":0,"y":1},{"r":3,"x":1,"y":1},{"r":3,"x":2,"y":1},{"r":3,"x":3,"y":1},{"r":3,"x":4,"y":1},{"r":3,"x":5,"y":1},{"r":3,"x":6,"y":1},{"r":3,"x":7,"y":1},{"r":3,"x":8,"y":1},{"r":3,"x":9,"y":2},{"r":3,"x":10,"y":2},{"r":3,"x":11,"y":2},{"r":3,"x":12,"y":1},{"r":3,"x":13,"y":1},{"r":3,"x":14,"y":1},{"r":3,"x":15,"y":2},{"r":3,"x":16,"y":3},{"r":3,"x":17,"y":1},{"r":3,"x":18,"y":1},{"r":3,"x":20,"y":1},{"r":3,"x":21,"y":1},{"r":3,"x":22,"y":1},{"r":3,"x":23,"y":1},{"r":3,"x":24,"y":1},{"r":3,"x":25,"y":1},{"r":3,"x":26,"y":1},{"r":3,"x":27,"y":1},{"r":3,"x":28,"y":1},{"r":3,"x":29,"y":1},{"r":3,"x":30,"y":1},{"r":3,"x":31,"y":1},{"r":3,"x":32,"y":1},{"r":3,"x":33,"y":1},{"r":3,"x":34,"y":1},{"r":3,"x":35,"y":1},{"r":3,"x":36,"y":1},{"r":3,"x":37,"y":1},{"r":3,"x":38,"y":1},{"r":3,"x":39,"y":1},
{"r":4,"x":0,"y":1},{"r":4,"x":2,"y":1},{"r":4,"x":4,"y":1},{"r":4,"x":5,"y":1},{"r":4,"x":6,"y":1},{"r":4,"x":7,"y":1},{"r":4,"x":8,"y":1},{"r":4,"x":9,"y":1},{"r":4,"x":10,"y":1},{"r":4,"x":11,"y":1},{"r":4,"x":12,"y":1},{"r":4,"x":13,"y":1},{"r":4,"x":14,"y":1},{"r":4,"x":15,"y":1},{"r":4,"x":16,"y":1},{"r":4,"x":17,"y":1},{"r":4,"x":18,"y":1},{"r":4,"x":20,"y":1},{"r":4,"x":21,"y":1},{"r":4,"x":22,"y":1},{"r":4,"x":23,"y":4},{"r":4,"x":24,"y":2},{"r":4,"x":25,"y":1},{"r":4,"x":26,"y":1},{"r":4,"x":27,"y":1},{"r":4,"x":28,"y":1},{"r":4,"x":29,"y":1},{"r":4,"x":30,"y":1},{"r":4,"x":31,"y":1},{"r":4,"x":32,"y":1},{"r":4,"x":34,"y":2},{"r":4,"x":35,"y":1},{"r":4,"x":36,"y":1},{"r":4,"x":39,"y":1},
{"r":5,"x":0,"y":1},{"r":5,"x":1,"y":1},{"r":5,"x":2,"y":1},{"r":5,"x":3,"y":5},{"r":5,"x":4,"y":2},{"r":5,"x":5,"y":1},{"r":5,"x":6,"y":1},{"r":5,"x":7,"y":1},{"r":5,"x":8,"y":1},{"r":5,"x":9,"y":1},{"r":5,"x":10,"y":1},{"r":5,"x":11,"y":1},{"r":5,"x":12,"y":1},{"r":5,"x":13,"y":1},{"r":5,"x":14,"y":2},{"r":5,"x":15,"y":1},{"r":5,"x":16,"y":1},{"r":5,"x":17,"y":1},{"r":5,"x":18,"y":1},{"r":5,"x":20,"y":1},{"r":5,"x":22,"y":1},{"r":5,"x":23,"y":1},{"r":5,"x":24,"y":1},{"r":5,"x":25,"y":1},{"r":5,"x":26,"y":1},{"r":5,"x":27,"y":1},{"r":5,"x":28,"y":1},{"r":5,"x":29,"y":1},{"r":5,"x":30,"y":1},{"r":5,"x":31,"y":1},{"r":5,"x":32,"y":1},{"r":5,"x":33,"y":1},{"r":5,"x":34,"y":1},{"r":5,"x":35,"y":1},{"r":5,"x":36,"y":1},{"r":5,"x":39,"y":1},
{"r":6,"x":0,"y":0.7},{"r":6,"x":2,"y":0.7},{"r":6,"x":3,"y":0.7},{"r":6,"x":4,"y":1},{"r":6,"x":5,"y":0.7},{"r":6,"x":6,"y":0.7},{"r":6,"x":7,"y":1},{"r":6,"x":8,"y":0.7},{"r":6,"x":9,"y":0.7},{"r":6,"x":10,"y":0.7},{"r":6,"x":11,"y":0.7},{"r":6,"x":12,"y":0.7},{"r":6,"x":13,"y":1},{"r":6,"x":14,"y":0.7},{"r":6,"x":15,"y":0.7},{"r":6,"x":16,"y":0.7},{"r":6,"x":17,"y":0.7},{"r":6,"x":18,"y":0.7},{"r":6,"x":19,"y":0.7},{"r":6,"x":20,"y":0.7},{"r":6,"x":21,"y":0.7},{"r":6,"x":23,"y":0.7},{"r":6,"x":24,"y":0.7},{"r":6,"x":26,"y":0.7},{"r":6,"x":27,"y":0.7},{"r":6,"x":28,"y":0.7},{"r":6,"x":29,"y":0.7},{"r":6,"x":30,"y":0.7},{"r":6,"x":31,"y":0.7},{"r":6,"x":32,"y":0.7},{"r":6,"x":33,"y":0.7},{"r":6,"x":34,"y":0.7},{"r":6,"x":35,"y":0.7},{"r":6,"x":36,"y":0.7},{"r":6,"x":37,"y":0.7},{"r":6,"x":38,"y":0.7},{"r":6,"x":39,"y":0.7},
{"r":7,"x":0,"y":0.5},{"r":7,"x":1,"y":0.5},{"r":7,"x":3,"y":0.5},{"r":7,"x":4,"y":0.5},{"r":7,"x":5,"y":0.5},{"r":7,"x":6,"y":0.6},{"r":7,"x":7,"y":0.6},{"r":7,"x":8,"y":0.6},{"r":7,"x":9,"y":0.6},{"r":7,"x":10,"y":0.6},{"r":7,"x":11,"y":0.6},{"r":7,"x":12,"y":0.6},{"r":7,"x":13,"y":0.6},{"r":7,"x":14,"y":0.6},{"r":7,"x":15,"y":0.5},{"r":7,"x":16,"y":0.5},{"r":7,"x":17,"y":0.5},{"r":7,"x":18,"y":0.5},{"r":7,"x":19,"y":0.5},{"r":7,"x":21,"y":0.5},{"r":7,"x":22,"y":0.5},{"r":7,"x":24,"y":0.5}],
"b6":[{"r":1,"x":10,"y":8},{"r":1,"x":11,"y":9},{"r":1,"x":12,"y":9},{"r":1,"x":13,"y":8},{"r":1,"x":14,"y":9},{"r":1,"x":15,"y":8},{"r":1,"x":16,"y":8},{"r":1,"x":17,"y":7},{"r":1,"x":18,"y":3},{"r":1,"x":19,"y":1},{"r":1,"x":20,"y":3},{"r":1,"x":21,"y":2},{"r":1,"x":22,"y":5},{"r":1,"x":23,"y":6},{"r":1,"x":24,"y":7},{"r":1,"x":25,"y":7},{"r":1,"x":26,"y":7},{"r":1,"x":27,"y":6},{"r":1,"x":28,"y":7},{"r":1,"x":29,"y":7},{"r":1,"x":30,"y":8},{"r":1,"x":31,"y":7},{"r":1,"x":32,"y":7},{"r":1,"x":33,"y":6},{"r":1,"x":34,"y":7},{"r":1,"x":35,"y":6},{"r":1,"x":36,"y":5},{"r":1,"x":37,"y":1},{"r":1,"x":39,"y":2},
{"r":2,"x":0,"y":2},{"r":2,"x":1,"y":3},{"r":2,"x":2,"y":4},{"r":2,"x":3,"y":6},{"r":2,"x":4,"y":7},{"r":2,"x":5,"y":6},{"r":2,"x":6,"y":6},{"r":2,"x":7,"y":7},{"r":2,"x":8,"y":6},{"r":2,"x":9,"y":6},{"r":2,"x":10,"y":7},{"r":2,"x":11,"y":6},{"r":2,"x":12,"y":7},{"r":2,"x":13,"y":8},{"r":2,"x":14,"y":7},{"r":2,"x":15,"y":6},{"r":2,"x":16,"y":5},{"r":2,"x":17,"y":2},{"r":2,"x":18,"y":1},{"r":2,"x":19,"y":2},{"r":2,"x":21,"y":2},{"r":2,"x":22,"y":6},{"r":2,"x":23,"y":6},{"r":2,"x":24,"y":7},{"r":2,"x":25,"y":6},{"r":2,"x":26,"y":6},{"r":2,"x":27,"y":7},{"r":2,"x":28,"y":6},{"r":2,"x":29,"y":7},{"r":2,"x":30,"y":6},{"r":2,"x":31,"y":6},{"r":2,"x":32,"y":6},{"r":2,"x":33,"y":5},{"r":2,"x":34,"y":5},{"r":2,"x":35,"y":6},{"r":2,"x":36,"y":5},{"r":2,"x":38,"y":1},
{"r":3,"x":0,"y":1},{"r":3,"x":1,"y":1},{"r":3,"x":2,"y":1},{"r":3,"x":3,"y":3},{"r":3,"x":4,"y":8},{"r":3,"x":5,"y":6},{"r":3,"x":6,"y":6},{"r":3,"x":7,"y":6},{"r":3,"x":8,"y":7},{"r":3,"x":9,"y":6},{"r":3,"x":10,"y":6},{"r":3,"x":11,"y":7},{"r":3,"x":12,"y":7},{"r":3,"x":13,"y":6},{"r":3,"x":14,"y":6},{"r":3,"x":15,"y":6},{"r":3,"x":16,"y":6},{"r":3,"x":18,"y":1},{"r":3,"x":22,"y":1},{"r":3,"x":23,"y":1},{"r":3,"x":24,"y":3},{"r":3,"x":25,"y":3},{"r":3,"x":26,"y":5},{"r":3,"x":27,"y":6},{"r":3,"x":28,"y":5},{"r":3,"x":29,"y":4},{"r":3,"x":30,"y":6},{"r":3,"x":31,"y":7},{"r":3,"x":32,"y":6},{"r":3,"x":33,"y":5},{"r":3,"x":34,"y":5},{"r":3,"x":35,"y":4},{"r":3,"x":36,"y":3},{"r":3,"x":37,"y":1},
{"r":4,"x":2,"y":1},{"r":4,"x":3,"y":1},{"r":4,"x":4,"y":3},{"r":4,"x":5,"y":3},{"r":4,"x":6,"y":4},{"r":4,"x":7,"y":5},{"r":4,"x":8,"y":5},{"r":4,"x":9,"y":4},{"r":4,"x":10,"y":6},{"r":4,"x":11,"y":7},{"r":4,"x":12,"y":7},{"r":4,"x":13,"y":6},{"r":4,"x":14,"y":5},{"r":4,"x":15,"y":4},{"r":4,"x":16,"y":4},{"r":4,"x":17,"y":2},{"r":4,"x":18,"y":2},{"r":4,"x":19,"y":1},{"r":4,"x":20,"y":1},{"r":4,"x":21,"y":1},{"r":4,"x":22,"y":1},{"r":4,"x":23,"y":1},{"r":4,"x":24,"y":2},{"r":4,"x":25,"y":2},{"r":4,"x":26,"y":2},{"r":4,"x":27,"y":3},{"r":4,"x":28,"y":2},{"r":4,"x":29,"y":4},{"r":4,"x":30,"y":5},{"r":4,"x":31,"y":5},{"r":4,"x":32,"y":5},{"r":4,"x":33,"y":4},{"r":4,"x":34,"y":3},{"r":4,"x":35,"y":3},{"r":4,"x":36,"y":3},
{"r":5,"x":0,"y":1},{"r":5,"x":1,"y":1},{"r":5,"x":2,"y":1},{"r":5,"x":3,"y":2},{"r":5,"x":4,"y":2},{"r":5,"x":5,"y":2},{"r":5,"x":6,"y":2},{"r":5,"x":7,"y":3},{"r":5,"x":8,"y":4},{"r":5,"x":9,"y":4},{"r":5,"x":10,"y":4},{"r":5,"x":11,"y":4},{"r":5,"x":12,"y":4},{"r":5,"x":13,"y":4},{"r":5,"x":14,"y":3},{"r":5,"x":15,"y":4},{"r":5,"x":16,"y":3},{"r":5,"x":18,"y":1},{"r":5,"x":19,"y":1},{"r":5,"x":21,"y":1},{"r":5,"x":22,"y":1},{"r":5,"x":23,"y":1},{"r":5,"x":24,"y":2},{"r":5,"x":25,"y":2},{"r":5,"x":26,"y":2},{"r":5,"x":27,"y":3},{"r":5,"x":28,"y":2},{"r":5,"x":29,"y":3},{"r":5,"x":30,"y":3},{"r":5,"x":31,"y":3},{"r":5,"x":32,"y":3},{"r":5,"x":33,"y":3},{"r":5,"x":34,"y":2},{"r":5,"x":35,"y":3},{"r":5,"x":36,"y":2},{"r":5,"x":37,"y":1},
{"r":6,"x":0,"y":1},{"r":6,"x":1,"y":1},{"r":6,"x":2,"y":1},{"r":6,"x":3,"y":2},{"r":6,"x":4,"y":2},{"r":6,"x":5,"y":3},{"r":6,"x":6,"y":2},{"r":6,"x":7,"y":3},{"r":6,"x":8,"y":3},{"r":6,"x":9,"y":3},{"r":6,"x":10,"y":2},{"r":6,"x":11,"y":3},{"r":6,"x":12,"y":3},{"r":6,"x":13,"y":3},{"r":6,"x":14,"y":2},{"r":6,"x":15,"y":2},{"r":6,"x":16,"y":1},{"r":6,"x":19,"y":1},{"r":6,"x":22,"y":1},{"r":6,"x":25,"y":1},{"r":6,"x":26,"y":1},{"r":6,"x":27,"y":1},{"r":6,"x":28,"y":1},{"r":6,"x":29,"y":1},{"r":6,"x":30,"y":1},{"r":6,"x":31,"y":1},{"r":6,"x":32,"y":1},{"r":6,"x":33,"y":1},{"r":6,"x":34,"y":1},{"r":6,"x":35,"y":1},{"r":6,"x":36,"y":1},{"r":6,"x":37,"y":1},{"r":6,"x":38,"y":1},
{"r":7,"x":0,"y":1},{"r":7,"x":6,"y":1},{"r":7,"x":7,"y":1},{"r":7,"x":8,"y":1},{"r":7,"x":9,"y":1},{"r":7,"x":10,"y":2},{"r":7,"x":11,"y":1},{"r":7,"x":12,"y":2},{"r":7,"x":13,"y":1},{"r":7,"x":14,"y":2},{"r":7,"x":15,"y":1},{"r":7,"x":16,"y":1},{"r":7,"x":17,"y":1},{"r":7,"x":18,"y":1},{"r":7,"x":20,"y":1},{"r":7,"x":22,"y":1},{"r":7,"x":23,"y":1},{"r":7,"x":24,"y":2},{"r":7,"x":25,"y":1},{"r":7,"x":26,"y":2}]
},
"spacing":26,
"vconcat":[
{"hconcat":[
{"data":{"name":"a1"},"facet":{"row":{"field":"r","type":"ordinal","header":null}},"spacing":0,"bounds":"flush","spec":{"width":165,"height":17.8,"mark":{"type":"bar","color":"black","width":4.3},"encoding":{"x":{"field":"x","type":"quantitative","scale":{"domain":[-0.5,39.5]},"axis":{"title":"foxo⁻ᐟ⁻","labels":false,"ticks":false,"domain":false,"grid":false,"titleFontSize":20,"titleFontWeight":"normal","titleColor":"black","titlePadding":-1}},"y":{"field":"y","type":"quantitative","scale":{"domain":[0,10]},"axis":null}}}},
{"data":{"name":"a2"},"facet":{"row":{"field":"r","type":"ordinal","header":null}},"spacing":0,"bounds":"flush","spec":{"width":165,"height":17.8,"mark":{"type":"bar","color":"black","width":4.3},"encoding":{"x":{"field":"x","type":"quantitative","scale":{"domain":[-0.5,39.5]},"axis":{"title":"foxo⁻/Df","labels":false,"ticks":false,"domain":false,"grid":false,"titleFontSize":20,"titleFontWeight":"normal","titleColor":"black","titlePadding":-1}},"y":{"field":"y","type":"quantitative","scale":{"domain":[0,10]},"axis":null}}}}
],"spacing":27,"title":{"text":"A","orient":"left","angle":0,"anchor":"end","baseline":"top","fontSize":28,"offset":-7,"dy":-2}},
{"vconcat":[
{"hconcat":[
{"data":{"name":"b1"},"facet":{"row":{"field":"r","type":"ordinal","header":null}},"spacing":0,"bounds":"flush","spec":{"width":165,"height":17.8,"mark":{"type":"bar","color":"black","width":4.3},"encoding":{"x":{"field":"x","type":"quantitative","scale":{"domain":[-0.5,39.5]},"axis":{"title":"yw","labels":false,"ticks":false,"domain":false,"grid":false,"titleFontSize":20,"titleFontWeight":"normal","titleColor":"black","titlePadding":-1}},"y":{"field":"y","type":"quantitative","scale":{"domain":[0,10]},"axis":null}}}},
{"data":{"name":"b2"},"facet":{"row":{"field":"r","type":"ordinal","header":null}},"spacing":0,"bounds":"flush","spec":{"width":165,"height":17.8,"mark":{"type":"bar","color":"black","width":4.3},"encoding":{"x":{"field":"x","type":"quantitative","scale":{"domain":[-0.5,39.5]},"axis":{"title":"foxo⁻/Df","labels":false,"ticks":false,"domain":false,"grid":false,"titleFontSize":20,"titleFontWeight":"normal","titleColor":"black","titlePadding":-1}},"y":{"field":"y","type":"quantitative","scale":{"domain":[0,10]},"axis":null}}}}
],"spacing":27},
{"vconcat":[
{"hconcat":[
{"data":{"name":"b3"},"facet":{"row":{"field":"r","type":"ordinal","header":null}},"spacing":0,"bounds":"flush","spec":{"width":165,"height":17.8,"mark":{"type":"bar","color":"black","width":4.3},"encoding":{"x":{"field":"x","type":"quantitative","scale":{"domain":[-0.5,39.5]},"axis":{"title":"foxo⁻ᐟ⁻","labels":false,"ticks":false,"domain":false,"grid":false,"titleFontSize":20,"titleFontWeight":"normal","titleColor":"black","titlePadding":-1}},"y":{"field":"y","type":"quantitative","scale":{"domain":[0,10]},"axis":null}}}},
{"data":{"name":"b4"},"facet":{"row":{"field":"r","type":"ordinal","header":null}},"spacing":0,"bounds":"flush","spec":{"width":165,"height":17.8,"mark":{"type":"bar","color":"black","width":4.3},"encoding":{"x":{"field":"x","type":"quantitative","scale":{"domain":[-0.5,39.5]},"axis":{"title":"1A2;;foxo⁻ᐟ⁻","labels":false,"ticks":false,"domain":false,"grid":false,"titleFontSize":20,"titleFontWeight":"normal","titleColor":"black","titlePadding":-1}},"y":{"field":"y","type":"quantitative","scale":{"domain":[0,10]},"axis":null}}}}
],"spacing":27},
{"hconcat":[
{"data":{"name":"b5"},"facet":{"row":{"field":"r","type":"ordinal","header":null}},"spacing":0,"bounds":"flush","spec":{"width":165,"height":17.8,"mark":{"type":"bar","color":"black","width":4.3},"encoding":{"x":{"field":"x","type":"quantitative","scale":{"domain":[-0.5,39.5]},"axis":{"title":"PG/uas-foxo;foxo⁻ᐟ⁻","titleX":88,"labels":false,"ticks":false,"domain":false,"grid":false,"titleFontSize":19.5,"titleFontWeight":"normal","titleColor":"black","titlePadding":-1}},"y":{"field":"y","type":"quantitative","scale":{"domain":[0,10]},"axis":null}}}},
{"data":{"name":"b6"},"facet":{"row":{"field":"r","type":"ordinal","header":null}},"spacing":0,"bounds":"flush","spec":{"width":165,"height":17.8,"mark":{"type":"bar","color":"black","width":4.3},"encoding":{"x":{"field":"x","type":"quantitative","scale":{"domain":[-0.5,39.5]},"axis":{"title":"DJ634/uas-foxo;foxo⁻ᐟ⁻","titleX":87.5,"labels":false,"ticks":false,"domain":false,"grid":false,"titleFontSize":19.5,"titleFontWeight":"normal","titleColor":"black","titlePadding":-1}},"y":{"field":"y","type":"quantitative","scale":{"domain":[0,10]},"axis":null}}}}
],"spacing":2}
],"spacing":11}
],"spacing":12,"title":{"text":"B","orient":"left","angle":0,"anchor":"end","baseline":"top","fontSize":28,"offset":-7,"dy":-2}}
]
}
